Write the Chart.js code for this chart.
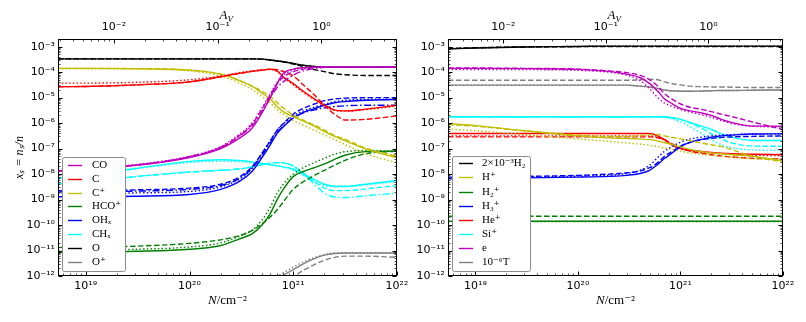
<!DOCTYPE html>
<html><head><meta charset="utf-8">
<script src="https://cdn.jsdelivr.net/npm/chart.js@4.4.1/dist/chart.umd.min.js"></script>
<style>
html,body{margin:0;padding:0;background:#fff;}
#wrap{position:relative;width:806px;height:322px;overflow:hidden;background:#fff;}
canvas{position:absolute;top:0;}
#c1{left:0;width:420px;height:322px;}
#c2{left:403px;width:403px;height:322px;}
</style></head><body>
<div id="wrap"><canvas id="c1" width="420" height="322"></canvas><canvas id="c2" width="403" height="322"></canvas></div>
<script>
// ---------- axes ----------
const xMin = 5.4e18, xMax = 1e22;
const yMin = 1e-12, yMax = 2e-3;
const NH_PER_AV = 1.87e21;
const xTickValues = [1e19, 1e20, 1e21, 1e22];
const xTickLabels = ['10¹⁹', '10²⁰', '10²¹', '10²²'];
const avTickValues = [1e-2, 1e-1, 1];
const avTickLabels = ['10⁻²', '10⁻¹', '10⁰'];
const yTickValues = [1e-12, 1e-11, 1e-10, 1e-9, 1e-8, 1e-7, 1e-6, 1e-5, 1e-4, 1e-3];
const yTickLabels = ['10⁻¹²', '10⁻¹¹', '10⁻¹⁰', '10⁻⁹', '10⁻⁸', '10⁻⁷', '10⁻⁶', '10⁻⁵', '10⁻⁴', '10⁻³'];

// column density grid (cm^-2)
const N = [5.4e18, 1e19, 3e19, 1e20, 2e20, 3e20, 4e20, 5e20, 6e20, 7e20, 8e20, 1e21, 1.25e21, 1.6e21, 2e21, 2.5e21, 3.2e21, 5e21, 1e22];

// ---------- left panel ----------
const CO_solid = [1.32e-8,1.58e-8,2.19e-8,4.47e-8,1e-7,2.51e-7,6.31e-7,2.51e-6,1e-5,3.55e-5,8.91e-5,1.32e-4,1.51e-4,1.58e-4,1.58e-4,1.58e-4,1.58e-4,1.58e-4,1.58e-4];
const CO_dashed = [1.32e-8,1.58e-8,2.24e-8,4.79e-8,1.12e-7,3.16e-7,8.91e-7,3.55e-6,1.26e-5,3.55e-5,6.31e-5,1.05e-4,1.32e-4,1.51e-4,1.58e-4,1.58e-4,1.58e-4,1.58e-4,1.58e-4];
const CO_dotted = [1.41e-8,1.66e-8,2.34e-8,5.01e-8,1.2e-7,3.55e-7,1e-6,3.98e-6,1.41e-5,3.98e-5,7.59e-5,1.2e-4,1.45e-4,1.58e-4,1.58e-4,1.58e-4,1.58e-4,1.58e-4,1.58e-4];
const CO_dashdot = [1.32e-8,1.58e-8,2.24e-8,4.79e-8,1.12e-7,3.02e-7,7.94e-7,2.82e-6,1e-5,2.51e-5,4.17e-5,7.59e-5,1.12e-4,1.38e-4,1.55e-4,1.58e-4,1.58e-4,1.58e-4,1.58e-4];

const C_solid = [2.69e-5,2.75e-5,3.16e-5,4.17e-5,6.61e-5,8.91e-5,1.07e-4,1.2e-4,1.32e-4,1.12e-4,6.61e-5,3.55e-5,1.78e-5,8.91e-6,5.01e-6,3.31e-6,3.02e-6,3.55e-6,5.01e-6];
const C_dashed = [2.69e-5,2.75e-5,3.16e-5,4.17e-5,6.61e-5,8.91e-5,1.07e-4,1.2e-4,1.32e-4,1.26e-4,1.07e-4,7.08e-5,3.16e-5,1.26e-5,5.01e-6,2.24e-6,1.32e-6,1.41e-6,1.91e-6];
const C_dotted = [3.72e-5,3.72e-5,3.98e-5,5.01e-5,7.08e-5,9.55e-5,1.12e-4,1.26e-4,1.26e-4,1.05e-4,6.31e-5,3.16e-5,1.58e-5,8.32e-6,4.79e-6,3.16e-6,2.95e-6,3.39e-6,4.68e-6];

const Cp_solid = [1.41e-4,1.41e-4,1.38e-4,1.2e-4,8.32e-5,4.79e-5,2.82e-5,1.51e-5,8.91e-6,4.47e-6,2.82e-6,1.78e-6,1.2e-6,7.59e-7,4.68e-7,3.02e-7,2.0e-7,9.55e-8,4.37e-8];
const Cp_dashed = [1.41e-4,1.41e-4,1.38e-4,1.2e-4,8.32e-5,4.79e-5,2.82e-5,1.78e-5,1.12e-5,6.31e-6,3.98e-6,2.09e-6,1.32e-6,8.32e-7,5.25e-7,3.31e-7,2.24e-7,1.05e-7,5.01e-8];
const Cp_dotted = [1.35e-4,1.35e-4,1.32e-4,1.12e-4,7.08e-5,3.8e-5,2.09e-5,1.12e-5,6.31e-6,3.31e-6,2.24e-6,1.26e-6,8.32e-7,5.25e-7,3.47e-7,2.24e-7,1.41e-7,6.31e-8,2.75e-8];

const HCO_solid = [8.32e-12,8.71e-12,9.33e-12,1.12e-11,1.58e-11,2.82e-11,4.47e-11,1e-10,2.82e-10,1e-9,2.51e-9,7.94e-9,1.26e-8,1.78e-8,2.51e-8,3.8e-8,5.62e-8,7.59e-8,7.94e-8];
const HCO_dashed = [1.32e-11,1.35e-11,1.48e-11,1.91e-11,2.63e-11,3.8e-11,6.03e-11,1.12e-10,2.09e-10,3.98e-10,7.94e-10,2.51e-9,5.01e-9,8.91e-9,1.41e-8,2.24e-8,3.55e-8,6.31e-8,7.94e-8];
const HCO_dotted = [1e-11,1.05e-11,1.12e-11,1.38e-11,2e-11,3.55e-11,6.31e-11,1.58e-10,5.01e-10,1.78e-9,3.98e-9,1e-8,1.78e-8,2.82e-8,4.17e-8,6.03e-8,7.59e-8,8.32e-8,7.94e-8];

const OH_solid = [1.29e-9,1.29e-9,1.35e-9,1.58e-9,2.51e-9,5.01e-9,1.26e-8,4.47e-8,1.41e-7,3.98e-7,7.08e-7,1.58e-6,2.63e-6,3.72e-6,5.01e-6,6.31e-6,7.08e-6,7.94e-6,8.32e-6];
const OH_dashed = [2.24e-9,2.24e-9,2.4e-9,2.82e-9,3.98e-9,7.59e-9,1.91e-8,6.61e-8,2e-7,5.25e-7,9.55e-7,2.24e-6,3.8e-6,5.62e-6,7.59e-6,8.91e-6,9.55e-6,1e-5,1e-5];
const OH_dotted = [1.74e-9,1.74e-9,1.82e-9,2.09e-9,3.16e-9,6.31e-9,1.66e-8,6.61e-8,2.09e-7,5.25e-7,9.33e-7,1.91e-6,3.02e-6,4.27e-6,5.5e-6,6.92e-6,7.94e-6,8.51e-6,8.71e-6];
const OH_dashdot = [2e-9,2e-9,2.14e-9,2.51e-9,3.55e-9,6.61e-9,1.66e-8,5.62e-8,1.66e-7,4.17e-7,7.59e-7,1.58e-6,2.51e-6,3.31e-6,3.98e-6,4.47e-6,4.79e-6,5.01e-6,5.01e-6];

const CH_solid = [7.08e-9,8.91e-9,1.66e-8,3.16e-8,3.63e-8,3.39e-8,3.02e-8,2.63e-8,2.34e-8,2.09e-8,1.91e-8,1.58e-8,1e-8,6.03e-9,3.98e-9,3.31e-9,3.31e-9,3.98e-9,5.62e-9];
const CH_dashed = [4.17e-9,5.01e-9,7.94e-9,1.2e-8,1.41e-8,1.58e-8,1.91e-8,2.34e-8,2.69e-8,2.82e-8,2.75e-8,2.09e-8,1.12e-8,5.01e-9,2.82e-9,2.24e-9,2.24e-9,2.63e-9,3.55e-9];
const CH_dotted = [6.31e-9,8.32e-9,1.58e-8,2.82e-8,3.16e-8,3.02e-8,2.75e-8,2.51e-8,2.29e-8,2.09e-8,1.91e-8,1.41e-8,8.91e-9,5.01e-9,3.55e-9,3.16e-9,3.16e-9,3.8e-9,5.01e-9];
const CH_dashdot = [4.17e-9,5.01e-9,7.94e-9,1.2e-8,1.41e-8,1.58e-8,1.91e-8,2.34e-8,2.69e-8,2.82e-8,2.75e-8,2.09e-8,1e-8,3.98e-9,1.78e-9,1.26e-9,1.2e-9,1.41e-9,1.78e-9];

const O_solid = [3.31e-4,3.31e-4,3.31e-4,3.31e-4,3.31e-4,3.31e-4,3.31e-4,3.24e-4,3.0e-4,2.75e-4,2.57e-4,2.19e-4,1.86e-4,1.66e-4,1.58e-4,1.58e-4,1.58e-4,1.58e-4,1.58e-4];
const O_dashed = [3.31e-4,3.31e-4,3.31e-4,3.31e-4,3.31e-4,3.31e-4,3.31e-4,3.24e-4,3.0e-4,2.75e-4,2.57e-4,2.09e-4,1.66e-4,1.26e-4,1.05e-4,8.71e-5,7.94e-5,7.41e-5,7.41e-5];
const O_dotted = [3.31e-4,3.31e-4,3.31e-4,3.31e-4,3.31e-4,3.31e-4,3.31e-4,3.24e-4,3.0e-4,2.75e-4,2.57e-4,2.19e-4,1.86e-4,1.66e-4,1.58e-4,1.58e-4,1.58e-4,1.58e-4,1.58e-4];

const Op_solid = [null,null,null,null,null,null,null,2.51e-13,5.01e-13,7.94e-13,1.07e-12,1.78e-12,3.02e-12,4.79e-12,6.61e-12,7.59e-12,7.94e-12,7.94e-12,7.94e-12];
const Op_dashed = [null,null,null,null,null,null,null,null,2.51e-13,3.98e-13,5.62e-13,9.55e-13,1.66e-12,2.82e-12,4.17e-12,5.37e-12,6.03e-12,6.03e-12,5.37e-12];
const Op_dotted = [null,null,null,null,null,null,null,3.16e-13,7.08e-13,1e-12,1.32e-12,2.24e-12,3.55e-12,5.25e-12,6.92e-12,7.94e-12,7.94e-12,7.94e-12,7.94e-12];

// ---------- right panel ----------
const H2_solid = [8.13e-4,8.91e-4,9.77e-4,1.02e-3,1.05e-3,1.05e-3,1.05e-3,1.05e-3,1.05e-3,1.05e-3,1.05e-3,1.05e-3,1.05e-3,1.05e-3,1.05e-3,1.05e-3,1.05e-3,1.05e-3,1.05e-3];
const H2_dashed = [8.51e-4,9.12e-4,9.77e-4,1e-3,1e-3,1e-3,1e-3,1e-3,1e-3,1e-3,1e-3,1e-3,1e-3,1e-3,1e-3,1e-3,1e-3,1e-3,1e-3];
const H2_dotted = [8.32e-4,8.91e-4,9.77e-4,1.02e-3,1.05e-3,1.05e-3,1.05e-3,1.05e-3,1.05e-3,1.05e-3,1.05e-3,1.05e-3,1.05e-3,1.05e-3,1.05e-3,1.05e-3,1.05e-3,1.05e-3,1.05e-3];

const Hp_solid = [9.55e-7,7.94e-7,5.01e-7,3.16e-7,2.63e-7,2.51e-7,2.4e-7,2.24e-7,2e-7,1.7e-7,1.51e-7,1.17e-7,9.33e-8,7.59e-8,6.76e-8,6.31e-8,5.75e-8,5.01e-8,3.31e-8];
const Hp_dashed = [8.71e-7,7.59e-7,5.01e-7,3.39e-7,3.02e-7,3.02e-7,3.16e-7,3.47e-7,3.55e-7,3.16e-7,2.82e-7,2.4e-7,2e-7,1.66e-7,1.41e-7,1.2e-7,8.91e-8,5.01e-8,3.02e-8];
const Hp_dotted = [5.89e-7,5.01e-7,3.55e-7,2.4e-7,1.91e-7,1.66e-7,1.51e-7,1.35e-7,1.2e-7,1.05e-7,9.55e-8,7.94e-8,6.76e-8,6.03e-8,5.37e-8,5.01e-8,4.57e-8,3.98e-8,3.63e-8];

const H2p_solid = [1.4e-10,1.4e-10,1.4e-10,1.4e-10,1.4e-10,1.4e-10,1.4e-10,1.4e-10,1.4e-10,1.4e-10,1.4e-10,1.4e-10,1.4e-10,1.4e-10,1.4e-10,1.4e-10,1.4e-10,1.4e-10,1.4e-10];
const H2p_dashed = [2.2e-10,2.2e-10,2.2e-10,2.2e-10,2.2e-10,2.2e-10,2.2e-10,2.2e-10,2.2e-10,2.2e-10,2.2e-10,2.2e-10,2.2e-10,2.2e-10,2.2e-10,2.2e-10,2.2e-10,2.2e-10,2.2e-10];
const H2p_dotted = [1.38e-10,1.38e-10,1.38e-10,1.38e-10,1.38e-10,1.38e-10,1.38e-10,1.38e-10,1.38e-10,1.38e-10,1.38e-10,1.38e-10,1.38e-10,1.38e-10,1.38e-10,1.38e-10,1.38e-10,1.38e-10,1.38e-10];

const H3p_solid = [6.46e-9,6.61e-9,7.08e-9,7.59e-9,8.13e-9,8.91e-9,1.05e-8,1.41e-8,2.4e-8,4.17e-8,6.03e-8,1.17e-7,1.78e-7,2.29e-7,2.82e-7,3.16e-7,3.39e-7,3.72e-7,3.8e-7];
const H3p_dashed = [7.59e-9,7.76e-9,8.13e-9,8.91e-9,1e-8,1.12e-8,1.32e-8,1.78e-8,2.82e-8,5.01e-8,7.08e-8,1.26e-7,1.78e-7,2.24e-7,2.51e-7,2.75e-7,2.88e-7,3.02e-7,3.16e-7];
const H3p_dotted = [7.08e-9,7.24e-9,7.59e-9,8.32e-9,9.12e-9,1.05e-8,1.38e-8,2.24e-8,4.47e-8,7.94e-8,1.12e-7,1.78e-7,2.4e-7,2.82e-7,3.16e-7,3.39e-7,3.55e-7,3.72e-7,3.8e-7];

const He_solid = [3.89e-7,3.89e-7,3.89e-7,3.89e-7,3.89e-7,3.89e-7,3.89e-7,3.89e-7,3.16e-7,2.24e-7,1.51e-7,1e-7,8.51e-8,7.76e-8,7.08e-8,6.61e-8,6.31e-8,6.03e-8,5.75e-8];
const He_dashed = [2.88e-7,2.88e-7,2.88e-7,2.88e-7,2.88e-7,2.88e-7,2.88e-7,2.88e-7,2.63e-7,2.24e-7,1.66e-7,1.05e-7,7.94e-8,6.61e-8,5.75e-8,5.13e-8,4.68e-8,4.17e-8,3.89e-8];
const He_dotted = [3.16e-7,3.16e-7,3.16e-7,3.16e-7,3.16e-7,3.16e-7,3.16e-7,3.16e-7,2.75e-7,2.09e-7,1.51e-7,1e-7,7.94e-8,7.08e-8,6.61e-8,6.17e-8,5.89e-8,5.5e-8,5.25e-8];

const Si_solid = [1.78e-6,1.78e-6,1.78e-6,1.78e-6,1.78e-6,1.78e-6,1.78e-6,1.78e-6,1.78e-6,1.78e-6,1.66e-6,1.41e-6,1.05e-6,7.59e-7,5.62e-7,3.8e-7,2.75e-7,2.09e-7,2.09e-7];
const Si_dashed = [1.78e-6,1.78e-6,1.78e-6,1.78e-6,1.78e-6,1.78e-6,1.78e-6,1.78e-6,1.78e-6,1.78e-6,1.66e-6,1.41e-6,1e-6,6.31e-7,3.8e-7,2.4e-7,1.66e-7,1.26e-7,1.23e-7];
const Si_dotted = [1.74e-6,1.74e-6,1.74e-6,1.74e-6,1.74e-6,1.74e-6,1.74e-6,1.74e-6,1.74e-6,1.66e-6,1.51e-6,1.12e-6,7.08e-7,3.98e-7,2.24e-7,1.41e-7,1.07e-7,8.91e-8,8.51e-8];

const e_solid = [1.41e-4,1.41e-4,1.38e-4,1.29e-4,1.07e-4,8.32e-5,6.17e-5,3.55e-5,1.78e-5,8.91e-6,6.31e-6,3.8e-6,3.02e-6,2.51e-6,2e-6,1.41e-6,1.05e-6,7.59e-7,7.59e-7];
const e_dashed = [1.45e-4,1.45e-4,1.41e-4,1.32e-4,1.12e-4,9.55e-5,7.59e-5,5.01e-5,2.82e-5,1.41e-5,9.55e-6,5.62e-6,4.17e-6,3.47e-6,2.82e-6,2.24e-6,1.78e-6,1.12e-6,5.62e-7];
const e_dotted = [1.26e-4,1.26e-4,1.26e-4,1.17e-4,1e-4,7.59e-5,4.79e-5,2.24e-5,1e-5,6.03e-6,4.79e-6,3.39e-6,2.69e-6,2.14e-6,1.7e-6,1.26e-6,9.55e-7,7.59e-7,7.08e-7];

const T_solid = [3.09e-5,3.09e-5,3.09e-5,3.09e-5,3.09e-5,3.09e-5,2.82e-5,2.63e-5,2.29e-5,2e-5,1.86e-5,1.78e-5,1.78e-5,1.82e-5,1.86e-5,1.91e-5,1.91e-5,1.95e-5,2e-5];
const T_dashed = [4.79e-5,4.79e-5,4.79e-5,4.79e-5,4.79e-5,4.79e-5,5.01e-5,5.25e-5,5.01e-5,4.17e-5,3.63e-5,3.16e-5,2.82e-5,2.69e-5,2.63e-5,2.63e-5,2.57e-5,2.51e-5,2.51e-5];
const T_dotted = [3.09e-5,3.09e-5,3.09e-5,3.09e-5,3.09e-5,3.09e-5,2.82e-5,2.63e-5,2.29e-5,2e-5,1.86e-5,1.78e-5,1.78e-5,1.82e-5,1.86e-5,1.91e-5,1.91e-5,1.95e-5,2e-5];

// ---------- styles ----------
const COL = {k:'#000000', r:'#ff0000', y:'#bfbf00', g:'#008000', b:'#0000ff', c:'#00ffff', m:'#bf00bf', gr:'#808080'};
const DASH = {solid: [], dashed: [5.5, 2.5], dotted: [1.5, 2.2], dashdot: [7, 2.5, 1.5, 2.5]};

const leftLegendLabels = ['CO', 'C', 'C⁺', 'HCO⁺', 'OHₓ', 'CHₓ', 'O', 'O⁺'];
const leftLegendColors = [COL.m, COL.r, COL.y, COL.g, COL.b, COL.c, COL.k, COL.gr];
const rightLegendLabels = ['2×10⁻³H₂', 'H⁺', 'H₂⁺', 'H₃⁺', 'He⁺', 'Si⁺', 'e', '10⁻⁶T'];
const rightLegendColors = [COL.k, COL.y, COL.g, COL.b, COL.r, COL.c, COL.m, COL.gr];

function ds(label, vals, color, style) {
  return {
    label: label + (style === 'solid' ? '' : ' (' + style + ')'),
    data: N.map((n, i) => ({x: n, y: vals[i]})),
    xAxisID: 'x', yAxisID: 'y',
    borderColor: color, backgroundColor: color,
    borderWidth: 1.4, borderDash: DASH[style],
    pointRadius: 0, pointHoverRadius: 0,
    cubicInterpolationMode: 'monotone', fill: false, spanGaps: false
  };
}

const leftDatasets = [
  ds('CO', CO_solid, COL.m, 'solid'), ds('CO', CO_dashed, COL.m, 'dashed'), ds('CO', CO_dotted, COL.m, 'dotted'), ds('CO', CO_dashdot, COL.m, 'dashdot'),
  ds('C', C_solid, COL.r, 'solid'), ds('C', C_dashed, COL.r, 'dashed'), ds('C', C_dotted, COL.r, 'dotted'),
  ds('C⁺', Cp_solid, COL.y, 'solid'), ds('C⁺', Cp_dashed, COL.y, 'dashed'), ds('C⁺', Cp_dotted, COL.y, 'dotted'),
  ds('HCO⁺', HCO_solid, COL.g, 'solid'), ds('HCO⁺', HCO_dashed, COL.g, 'dashed'), ds('HCO⁺', HCO_dotted, COL.g, 'dotted'),
  ds('OHₓ', OH_solid, COL.b, 'solid'), ds('OHₓ', OH_dashed, COL.b, 'dashed'), ds('OHₓ', OH_dotted, COL.b, 'dotted'), ds('OHₓ', OH_dashdot, COL.b, 'dashdot'),
  ds('CHₓ', CH_solid, COL.c, 'solid'), ds('CHₓ', CH_dashed, COL.c, 'dashed'), ds('CHₓ', CH_dotted, COL.c, 'dotted'), ds('CHₓ', CH_dashdot, COL.c, 'dashdot'),
  ds('O', O_solid, COL.k, 'solid'), ds('O', O_dashed, COL.k, 'dashed'), ds('O', O_dotted, COL.k, 'dotted'),
  ds('O⁺', Op_solid, COL.gr, 'solid'), ds('O⁺', Op_dashed, COL.gr, 'dashed'), ds('O⁺', Op_dotted, COL.gr, 'dotted')
];
const rightDatasets = [
  ds('2×10⁻³H₂', H2_solid, COL.k, 'solid'), ds('2×10⁻³H₂', H2_dashed, COL.k, 'dashed'), ds('2×10⁻³H₂', H2_dotted, COL.k, 'dotted'),
  ds('H⁺', Hp_solid, COL.y, 'solid'), ds('H⁺', Hp_dashed, COL.y, 'dashed'), ds('H⁺', Hp_dotted, COL.y, 'dotted'),
  ds('H₂⁺', H2p_solid, COL.g, 'solid'), ds('H₂⁺', H2p_dashed, COL.g, 'dashed'), ds('H₂⁺', H2p_dotted, COL.g, 'dotted'),
  ds('H₃⁺', H3p_solid, COL.b, 'solid'), ds('H₃⁺', H3p_dashed, COL.b, 'dashed'), ds('H₃⁺', H3p_dotted, COL.b, 'dotted'),
  ds('He⁺', He_solid, COL.r, 'solid'), ds('He⁺', He_dashed, COL.r, 'dashed'), ds('He⁺', He_dotted, COL.r, 'dotted'),
  ds('Si⁺', Si_solid, COL.c, 'solid'), ds('Si⁺', Si_dashed, COL.c, 'dashed'), ds('Si⁺', Si_dotted, COL.c, 'dotted'),
  ds('e', e_solid, COL.m, 'solid'), ds('e', e_dashed, COL.m, 'dashed'), ds('e', e_dotted, COL.m, 'dotted'),
  ds('10⁻⁶T', T_solid, COL.gr, 'solid'), ds('10⁻⁶T', T_dashed, COL.gr, 'dashed'), ds('10⁻⁶T', T_dotted, COL.gr, 'dotted')
];

// ---------- plugins ----------
function logTickList(scale) {
  const out = [];
  const lo = Math.floor(Math.log10(scale.min)), hi = Math.ceil(Math.log10(scale.max));
  for (let d = lo; d <= hi; d++) {
    for (let m = 1; m < 10; m++) {
      const v = m * Math.pow(10, d);
      if (v >= scale.min * (1 - 1e-9) && v <= scale.max * (1 + 1e-9)) out.push({v: v, major: m === 1});
    }
  }
  return out;
}

function makeDeco(legendCfg) {
  return {
    id: 'deco',
    afterDatasetsDraw(chart) {
      const ctx = chart.ctx, a = chart.chartArea;
      const L = Math.round(a.left) + 0.5, R = Math.round(a.right) - 0.5;
      const T = Math.round(a.top) + 0.5, B = Math.round(a.bottom) - 0.5;
      ctx.save();
      ctx.strokeStyle = '#000';
      const drawTicks = (list, fn) => {
        list.forEach(t => {
          ctx.lineWidth = t.major ? 1 : 0.7;
          ctx.beginPath(); fn(t); ctx.stroke();
        });
      };
      const sx = chart.scales.x, sx2 = chart.scales.x2, sy = chart.scales.y;
      drawTicks(logTickList(sx), t => {
        const p = Math.round(sx.getPixelForValue(t.v)) + 0.5; const len = t.major ? 4 : 2;
        ctx.moveTo(p, B); ctx.lineTo(p, B - len);
      });
      drawTicks(logTickList(sx2), t => {
        const p = Math.round(sx2.getPixelForValue(t.v)) + 0.5; const len = t.major ? 4 : 2;
        ctx.moveTo(p, T); ctx.lineTo(p, T + len);
      });
      drawTicks(logTickList(sy), t => {
        const p = Math.round(sy.getPixelForValue(t.v)) + 0.5; const len = t.major ? 4 : 2;
        ctx.moveTo(L, p); ctx.lineTo(L + len, p);
        ctx.moveTo(R, p); ctx.lineTo(R - len, p);
      });
      ctx.lineWidth = 1;
      ctx.strokeRect(L, T, R - L, B - T);
      ctx.fillStyle = '#000';
      ctx.textBaseline = 'alphabetic';
      const mid = (a.left + a.right) / 2;
      // A_V title (top axis)
      const cx = mid - 8;
      ctx.font = 'italic 13px "Liberation Serif", "DejaVu Serif", serif';
      ctx.fillText('A', cx, 19);
      ctx.font = 'italic 9px "Liberation Serif", "DejaVu Serif", serif';
      ctx.fillText('V', cx + 8, 22);
      // N/cm^-2 title (bottom axis)
      ctx.font = 'italic 13px "Liberation Serif", "DejaVu Serif", serif';
      const wN = ctx.measureText('N').width;
      ctx.font = '13px "Liberation Serif", "DejaVu Serif", serif';
      const rest = '/cm⁻²';
      const wR = ctx.measureText(rest).width;
      const x0 = mid - (wN + wR) / 2;
      ctx.font = 'italic 13px "Liberation Serif", "DejaVu Serif", serif';
      ctx.fillText('N', x0, 304);
      ctx.font = '13px "Liberation Serif", "DejaVu Serif", serif';
      ctx.fillText(rest, x0 + wN, 304);
      // legend
      const g = legendCfg;
      ctx.beginPath();
      const r = 2, x = g.x + 0.5, y = g.y + 0.5, w = g.w, h = g.h;
      ctx.moveTo(x + r, y); ctx.lineTo(x + w - r, y); ctx.arcTo(x + w, y, x + w, y + r, r);
      ctx.lineTo(x + w, y + h - r); ctx.arcTo(x + w, y + h, x + w - r, y + h, r);
      ctx.lineTo(x + r, y + h); ctx.arcTo(x, y + h, x, y + h - r, r);
      ctx.lineTo(x, y + r); ctx.arcTo(x, y, x + r, y, r); ctx.closePath();
      ctx.fillStyle = '#ffffff'; ctx.fill();
      ctx.strokeStyle = '#8c8c8c'; ctx.lineWidth = 1; ctx.stroke();
      ctx.font = '11px "Liberation Serif", "DejaVu Serif", serif';
      ctx.textBaseline = 'middle';
      g.labels.forEach((lab, i) => {
        const cy = Math.round(g.y0 + i * g.step) + 0.5;
        ctx.beginPath(); ctx.moveTo(g.lx0, cy); ctx.lineTo(g.lx1, cy);
        ctx.strokeStyle = g.colors[i]; ctx.lineWidth = 1.4; ctx.stroke();
        ctx.fillStyle = '#000';
        ctx.fillText(lab, g.tx, cy);
      });
      ctx.restore();
    }
  };
}

function makeChart(id, datasets, yWidth, showYTitle, legendCfg) {
  return new Chart(document.getElementById(id), {
    type: 'line',
    data: {datasets: datasets},
    options: {
      responsive: false, animation: false, devicePixelRatio: 1,
      events: [],
      layout: {padding: {left: 0, right: 23, top: 0, bottom: 0}},
      plugins: {legend: {display: false}, tooltip: {enabled: false}},
      scales: {
        x: {
          type: 'logarithmic', position: 'bottom', min: xMin, max: xMax,
          grid: {display: false, drawTicks: false}, border: {display: false},
          afterBuildTicks: s => { s.ticks = xTickValues.map(v => ({value: v})); },
          afterFit: s => { s.height = 46; },
          ticks: {autoSkip: false, maxRotation: 0, padding: 4, color: '#000',
                  font: {family: 'DejaVu Sans', size: 11},
                  callback: v => xTickLabels[xTickValues.indexOf(v)]}
        },
        x2: {
          type: 'logarithmic', position: 'top', min: xMin / NH_PER_AV, max: xMax / NH_PER_AV,
          grid: {display: false, drawTicks: false}, border: {display: false},
          afterBuildTicks: s => { s.ticks = avTickValues.map(v => ({value: v})); },
          afterFit: s => { s.height = 39; },
          ticks: {autoSkip: false, maxRotation: 0, padding: 5, color: '#000',
                  font: {family: 'DejaVu Sans', size: 11},
                  callback: v => avTickLabels[avTickValues.indexOf(v)]}
        },
        y: {
          type: 'logarithmic', position: 'left', min: yMin, max: yMax,
          grid: {display: false, drawTicks: false}, border: {display: false},
          afterBuildTicks: s => { s.ticks = yTickValues.map(v => ({value: v})); },
          afterFit: s => { s.width = yWidth; },
          ticks: {autoSkip: false, padding: 3, color: '#000',
                  font: {family: 'DejaVu Sans', size: 11},
                  callback: v => yTickLabels[yTickValues.indexOf(v)]},
          title: {display: showYTitle, text: 'xₛ = nₛ/n', color: '#000',
                  font: {family: 'Liberation Serif', size: 12, style: 'italic'},
                  padding: {top: 13, bottom: 0}}
        }
      }
    },
    plugins: [makeDeco(legendCfg)]
  });
}

makeChart('c1', leftDatasets, 58, true, {
  x: 62, y: 157, w: 63, h: 114, y0: 165, step: 13.8, lx0: 68, lx1: 82, tx: 92,
  labels: leftLegendLabels, colors: leftLegendColors
});
makeChart('c2', rightDatasets, 45, false, {
  x: 49, y: 156, w: 78, h: 115, y0: 163.3, step: 14.1, lx0: 56, lx1: 70, tx: 79,
  labels: rightLegendLabels, colors: rightLegendColors
});
</script></body></html>
